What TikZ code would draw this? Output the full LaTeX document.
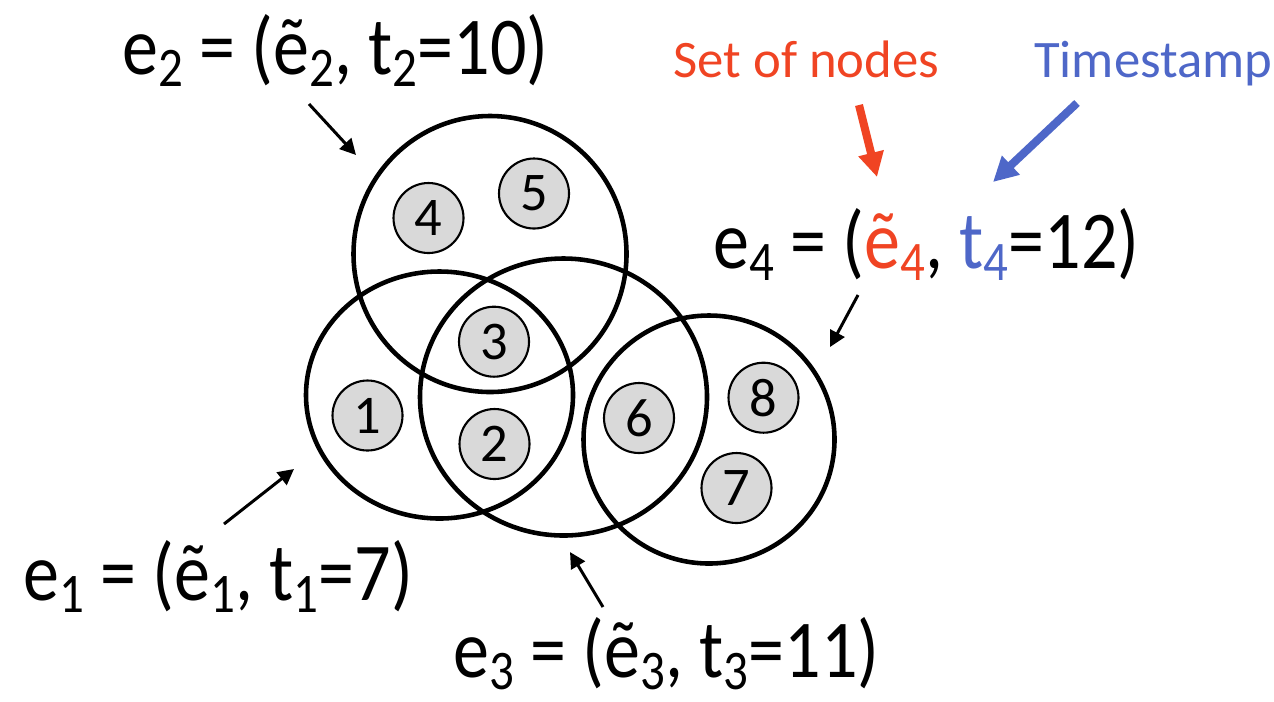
\documentclass[tikz,border=0pt]{standalone}
\usepackage{fontspec}
\setmainfont{Carlito}
\usepackage{graphicx}
\usetikzlibrary{positioning, shapes.geometric, arrows.meta}

\definecolor{setred}{RGB}{240,68,35}
\definecolor{stampblue}{RGB}{78,103,200}
\newcommand{\sbs}[1]{\raisebox{-0.15em}{\scalebox{0.68}{#1}}}
\newcommand{\tall}[1]{\scalebox{1}[1.14]{#1}}

\begin{document}
\begin{tikzpicture}[
  hyperedge/.style={ellipse, draw=black, line width=1.3pt, inner sep=0pt},
  vertex/.style={
    circle, draw=black, line width=0.6pt, fill=gray!30,
    minimum size=0.70cm, inner sep=0pt, font=\fontsize{15.5}{15.5}\selectfont
  },
  edgelabel/.style={font=\fontsize{20.5}{24}\selectfont, inner sep=0pt, anchor=base west},
  notelabel/.style={font=\fontsize{15}{18}\selectfont, inner sep=0pt, anchor=base west},
  pointer/.style={-{Triangle[length=4.5pt,width=4.5pt]}, line width=0.85pt},
  bigpointer/.style={-{Triangle[length=7pt,width=7pt]}, line width=2.3pt},
]
\useasboundingbox (0,0) rectangle (12.74,-7.01);

% Hyperedges as big outlines
\node[hyperedge, minimum width=2.67cm, minimum height=2.47cm] (set1) at (4.395,-3.95) {};
\node[hyperedge, minimum width=2.73cm, minimum height=2.76cm] (set2) at (4.90,-2.54) {};
\node[hyperedge, minimum width=2.87cm, minimum height=2.77cm] (set3) at (5.635,-3.97) {};
\node[hyperedge, minimum width=2.51cm, minimum height=2.48cm] (set4) at (7.09,-4.395) {};

% Vertices
\node[vertex] at (3.675,-4.155) (v1) {1};
\node[vertex] at (4.945,-4.44) (v2) {2};
\node[vertex] at (4.94,-3.417) (v3) {3};
\node[vertex] at (4.285,-2.18) (v4) {4};
\node[vertex] at (5.34,-1.935) (v5) {5};
\node[vertex] at (6.39,-4.18) (v6) {6};
\node[vertex] at (7.365,-4.88) (v7) {7};
\node[vertex] at (7.635,-3.977) (v8) {8};

% Hyperedge labels
\node[edgelabel] at (0.23,-6.00) (lab1) {\tall{e\sbs{1} = (ẽ\sbs{1}, t\sbs{1}=7)}};
\node[edgelabel] at (1.22,-0.74) (lab2) {\tall{e\sbs{2} = (ẽ\sbs{2}, t\sbs{2}=10)}};
\node[edgelabel] at (4.53,-6.77) (lab3) {\tall{e\sbs{3} = (ẽ\sbs{3}, t\sbs{3}=11)}};
\node[edgelabel] at (7.13,-2.68) (lab4) {\tall{e\sbs{4} = ({\color{setred}ẽ\sbs{4}}, {\color{stampblue}t\sbs{4}}=12)}};

% Notes on the parts of e4
\node[notelabel, text=setred] at (6.73,-0.77) (setnote) {Set of nodes};
\node[notelabel, text=stampblue] at (10.335,-0.77) (stampnote) {Timestamp};

% Pointer ends
\coordinate (tail1) at (2.24,-5.24);  \coordinate (head1) at (2.94,-4.69);
\coordinate (tail2) at (3.09,-1.04);  \coordinate (head2) at (3.56,-1.55);
\coordinate (tail3) at (6.03,-6.07);  \coordinate (head3) at (5.70,-5.52);
\coordinate (tail4) at (8.58,-2.95);  \coordinate (head4) at (8.30,-3.47);
\coordinate (setfrom) at (8.59,-1.05);   \coordinate (setto) at (8.77,-1.77);
\coordinate (stampfrom) at (10.77,-1.03); \coordinate (stampto) at (9.93,-1.82);

\draw[pointer] (tail1) -- (head1);
\draw[pointer] (tail2) -- (head2);
\draw[pointer] (tail3) -- (head3);
\draw[pointer] (tail4) -- (head4);
\draw[bigpointer, setred] (setfrom) -- (setto);
\draw[bigpointer, stampblue] (stampfrom) -- (stampto);

\end{tikzpicture}
\end{document}
